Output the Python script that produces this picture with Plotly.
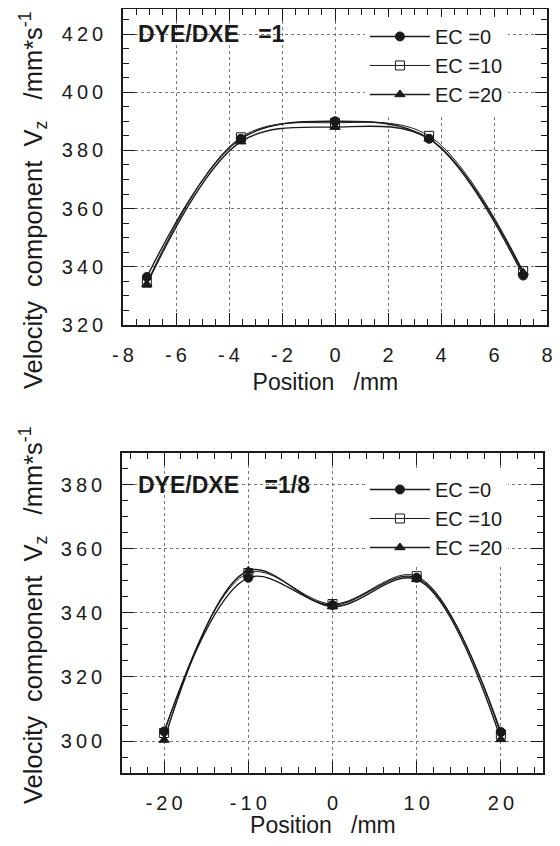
import plotly.graph_objects as go

# top panel: DYE/DXE = 1
pos_top = [-7.1, -3.55, 0, 3.55, 7.1]
v_top_ec0 = [336.5, 384, 390, 384, 337]
v_top_ec10 = [334.5, 384.5, 389.5, 385, 338.5]
v_top_ec20 = [334, 383, 388, 384, 338]

# bottom panel: DYE/DXE = 1/8
pos_bot = [-20, -10, 0, 10, 20]
v_bot_ec0 = [303, 351, 342.5, 351, 302.8]
v_bot_ec10 = [302.5, 352.5, 342.8, 351.5, 302]
v_bot_ec20 = [300.3, 353.2, 342, 350.5, 300.5]

series_names = ["EC =0", "EC =10", "EC =20"]
symbols = ["circle", "square-open", "triangle-up"]
line_widths = [1.4, 1.0, 1.4]

xticks_top = [-8, -6, -4, -2, 0, 2, 4, 6, 8]
yticks_top = [320, 340, 360, 380, 400, 420]
xticks_bot = [-20, -10, 0, 10, 20]
yticks_bot = [300, 320, 340, 360, 380]

FONT = "Liberation Sans, Arial, sans-serif"
INK = "#1a1a1a"

# page body has an 8px margin, so the figure is sized to sit inside the window
W, H = 550, 830


def spaced(v):
    # the scanned figure uses loose letter spacing
    return "\u2009".join(str(v))


fig = go.Figure()

panels = [
    (pos_top, [v_top_ec0, v_top_ec10, v_top_ec20], "x", "y", "legend"),
    (pos_bot, [v_bot_ec0, v_bot_ec10, v_bot_ec20], "x2", "y2", "legend2"),
]
for xs, ys_list, xa, ya, leg in panels:
    for name, sym, lw, ys in zip(series_names, symbols, line_widths, ys_list):
        fig.add_trace(go.Scatter(
            x=xs, y=ys, name=name,
            mode="lines+markers",
            line=dict(color=INK, width=lw, shape="spline", smoothing=1.0),
            marker=dict(symbol=sym, size=9, color=INK,
                        line=dict(color=INK, width=1)),
            xaxis=xa, yaxis=ya, legend=leg,
        ))


def frame_axis(**kw):
    d = dict(
        showline=True, linecolor=INK, linewidth=1.5, mirror="ticks",
        ticks="inside", ticklen=12, tickwidth=1.3, tickcolor=INK,
        showgrid=True, gridcolor="#777", griddash="dot", gridwidth=1,
        zeroline=False, automargin=False, ticklabeloverflow="allow",
        tickfont=dict(family=FONT, size=20, color=INK),
    )
    d.update(kw)
    return d


minor_x_top = dict(dtick=0.5, ticks="inside", ticklen=6, tickwidth=1.2, tickcolor=INK, showgrid=False)
minor_x_bot = dict(dtick=2, tick0=0, ticks="inside", ticklen=6, tickwidth=1.2, tickcolor=INK, showgrid=False)
minor_y = dict(dtick=5, tick0=0, ticks="inside", ticklen=6, tickwidth=1.2, tickcolor=INK, showgrid=False)

title_font = dict(family=FONT, size=23, color=INK)
legend_font = dict(family=FONT, size=20, color=INK)
xtitle = "Position&nbsp;&nbsp; /mm&nbsp;&nbsp;&nbsp;"

fig.update_layout(
    width=W, height=H,
    margin=dict(l=0, r=0, t=0, b=0, autoexpand=False),
    paper_bgcolor="white", plot_bgcolor="white",
    xaxis=frame_axis(domain=[0.2091, 0.98], range=[-8, 8], anchor="y",
                     tickvals=xticks_top, ticktext=[spaced(t) for t in xticks_top],
                     minor=minor_x_top, ticklabelstandoff=11,
                     title=dict(text=xtitle, font=title_font, standoff=9)),
    yaxis=frame_axis(domain=[0.6181, 0.9988], range=[320, 428.6], anchor="x",
                     tickvals=yticks_top, ticktext=[spaced(t) for t in yticks_top],
                     minor=minor_y, ticklabelstandoff=14),
    xaxis2=frame_axis(domain=[0.2073, 0.9727], range=[-25, 25], anchor="y2",
                      tickvals=xticks_bot, ticktext=[spaced(t) for t in xticks_bot],
                      minor=minor_x_bot, ticklabelstandoff=11,
                      title=dict(text=xtitle, font=title_font, standoff=9)),
    yaxis2=frame_axis(domain=[0.0783, 0.4639], range=[290, 390], anchor="x2",
                      tickvals=yticks_bot, ticktext=[spaced(t) for t in yticks_bot],
                      minor=minor_y, ticklabelstandoff=14),
    legend=dict(x=0.649, y=0.9892, xanchor="left", yanchor="top", itemwidth=60,
                bgcolor="white", borderwidth=0, tracegroupgap=0, font=legend_font),
    legend2=dict(x=0.649, y=0.4434, xanchor="left", yanchor="top", itemwidth=60,
                 bgcolor="white", borderwidth=0, tracegroupgap=0, font=legend_font),
)

ytitle = "Velocity&nbsp;&nbsp;component&nbsp;&nbsp;V<sub>z</sub>&nbsp;&nbsp;&nbsp;/mm*s<sup>-1</sup>"
for yc in [0.7687, 0.2687]:
    fig.add_annotation(text=ytitle, xref="paper", yref="paper", x=0.0455, y=yc,
                       textangle=-90, showarrow=False, xanchor="center", yanchor="middle",
                       font=dict(family=FONT, size=25.5, color=INK))

fig.add_annotation(text="<b>DYE/DXE&nbsp;&nbsp;&nbsp;=1</b>", xref="x domain", yref="y",
                   x=0.031, y=420, showarrow=False, xanchor="left", yanchor="middle",
                   font=dict(family=FONT, size=23, color=INK))
fig.add_annotation(text="<b>DYE/DXE&nbsp;&nbsp;&nbsp;&nbsp;=1/8</b>", xref="x2 domain", yref="y2",
                   x=0.033, y=380, showarrow=False, xanchor="left", yanchor="middle",
                   font=dict(family=FONT, size=23, color=INK))

fig.write_html("out.html")
